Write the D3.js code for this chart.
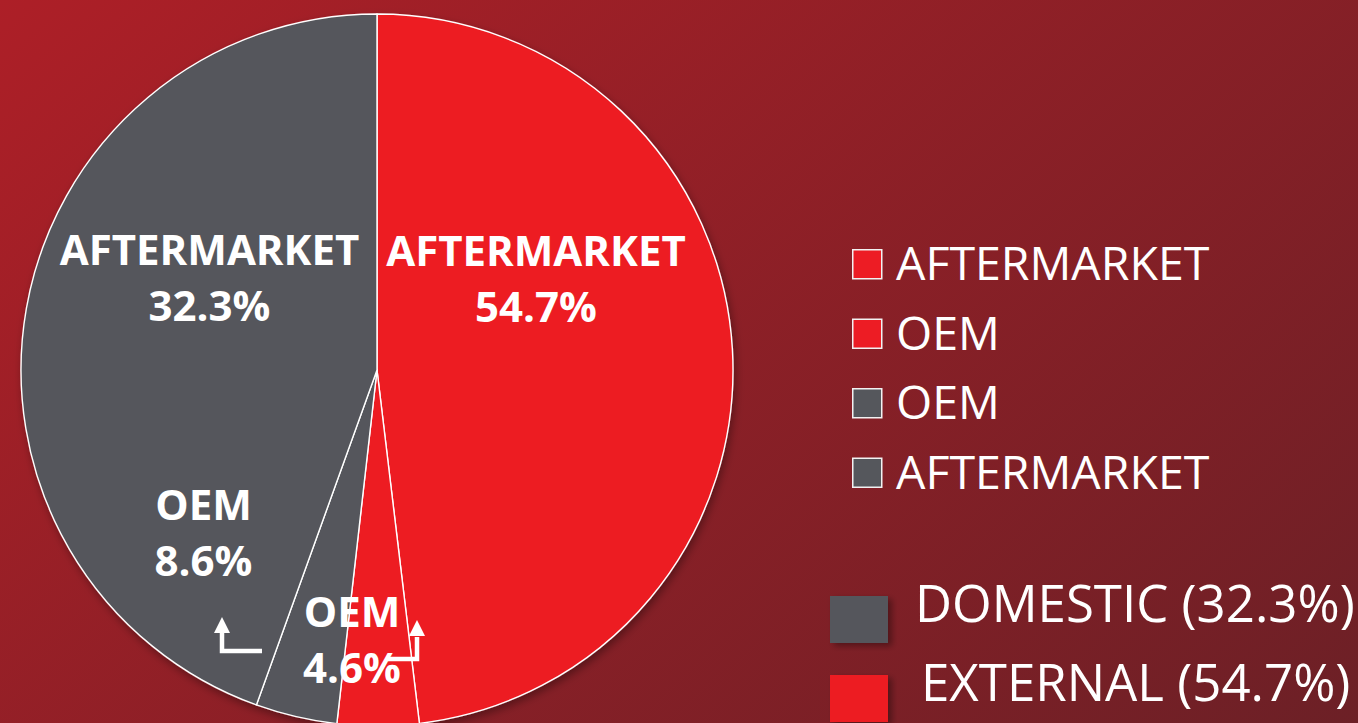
<!DOCTYPE html>
<html>
<head>
<meta charset="utf-8">
<script src="https://cdn.jsdelivr.net/npm/d3@7/dist/d3.min.js"></script>
<style>
  html, body { margin: 0; padding: 0; background: #8a2027; }
  svg { display: block; }
</style>
</head>
<body>
<svg id="chart" width="1358" height="723"></svg>
<script>
// ---------- data ----------
const segments    = ["AFTERMARKET", "OEM", "OEM", "AFTERMARKET"];
const groups      = ["EXTERNAL", "EXTERNAL", "DOMESTIC", "DOMESTIC"];
// slice sizes as drawn in the picture (share of the full circle, %)
const sliceShares = [48.1, 3.7, 3.7, 44.5];
// values printed on the slices
const labelValues = ["54.7%", "4.6%", "8.6%", "32.3%"];
const totalGroups = ["DOMESTIC", "EXTERNAL"];
const totalValues = ["32.3%", "54.7%"];

// ---------- layout / style ----------
const W = 1358, H = 723;
const cx = 377, cy = 370, R = 356;
const colorOf = { EXTERNAL: "#ed1c24", DOMESTIC: "#55575c" };
// label anchor offsets from pie centre (line1 baseline)
const labelPos = [[159, -104], [-25, 257], [-173.5, 150], [-167.5, -105]];
const lineGap = 56;
// arrow annotations (relative to pie centre), polyline + arrow tip
const arrows = [
  { pts: [[-115, 281], [-155, 281], [-155, 262]], tip: [-155, 247] },
  { pts: [[11, 289], [40, 289], [40, 267]], tip: [40, 250] }
];

const svg = d3.select("#chart");
const defs = svg.append("defs");

const grad = defs.append("linearGradient")
  .attr("id", "bg").attr("gradientUnits", "userSpaceOnUse")
  .attr("x1", 0).attr("y1", 0).attr("x2", 1069).attr("y2", 1243);
grad.append("stop").attr("offset", 0).attr("stop-color", "#ad1f27");
grad.append("stop").attr("offset", 1).attr("stop-color", "#632026");

const sh = defs.append("filter").attr("id", "shadow")
  .attr("x", "-20%").attr("y", "-20%").attr("width", "140%").attr("height", "140%");
sh.append("feDropShadow").attr("dx", 2).attr("dy", 4).attr("stdDeviation", 4)
  .attr("flood-color", "#000").attr("flood-opacity", 0.35);

const sh2 = defs.append("filter").attr("id", "shadow2")
  .attr("x", "-30%").attr("y", "-30%").attr("width", "160%").attr("height", "160%");
sh2.append("feDropShadow").attr("dx", 4).attr("dy", 3).attr("stdDeviation", 3)
  .attr("flood-color", "#000").attr("flood-opacity", 0.35);

svg.append("rect").attr("width", W).attr("height", H).attr("fill", "url(#bg)");

// ---------- pie ----------
const data = segments.map((s, i) => ({ seg: s, group: groups[i], share: sliceShares[i], label: labelValues[i] }));
const pie = d3.pie().sort(null).value(d => d.share);
const arc = d3.arc().innerRadius(0).outerRadius(R);

const g = svg.append("g").attr("transform", `translate(${cx},${cy})`);
const slices = g.append("g").attr("filter", "url(#shadow)");
slices.selectAll("path").data(pie(data)).join("path")
  .attr("d", arc)
  .attr("fill", d => colorOf[d.data.group])
  .attr("stroke", "#ffffff")
  .attr("stroke-width", 1.4)
  .attr("stroke-linejoin", "round");

// labels
const lab = g.append("g")
  .attr("font-family", "'Open Sans', 'DejaVu Sans', sans-serif")
  .attr("font-weight", 700)
  .attr("font-size", 42)
  .attr("fill", "#ffffff")
  .attr("text-anchor", "middle");
data.forEach((d, i) => {
  const t = lab.append("text").attr("x", labelPos[i][0]).attr("y", labelPos[i][1]);
  t.append("tspan").attr("x", labelPos[i][0]).text(d.seg);
  t.append("tspan").attr("x", labelPos[i][0]).attr("dy", lineGap).text(d.label);
});

// arrows
const ag = g.append("g");
arrows.forEach(a => {
  ag.append("path")
    .attr("d", d3.line()(a.pts))
    .attr("fill", "none").attr("stroke", "#ffffff").attr("stroke-width", 4.5)
    .attr("stroke-linejoin", "miter");
  const [tx, ty] = a.tip;
  ag.append("path")
    .attr("d", `M${tx},${ty}L${tx + 8},${ty + 16}L${tx - 8},${ty + 16}Z`)
    .attr("fill", "#ffffff");
});

// ---------- legend (segments) ----------
const lg = svg.append("g").attr("transform", "translate(852,249)");
const rowH = 69.5;
data.forEach((d, i) => {
  const row = lg.append("g").attr("transform", `translate(0,${i * rowH})`);
  row.append("rect").attr("x", 0.75).attr("y", 0.75).attr("width", 29).attr("height", 29)
    .attr("fill", colorOf[d.group]).attr("stroke", "#f2f2f2").attr("stroke-width", 1.5);
  row.append("text").attr("x", 44).attr("y", 31)
    .attr("font-family", "'Open Sans', 'DejaVu Sans', sans-serif")
    .attr("font-size", 46.5).attr("fill", "#ffffff")
    .text(d.seg);
});

// ---------- legend (groups) ----------
const lg2 = svg.append("g").attr("transform", "translate(830,596)");
const startX = [85, 91];
totalGroups.forEach((grp, i) => {
  const row = lg2.append("g").attr("transform", `translate(0,${i * 79})`);
  row.append("rect").attr("width", 58).attr("height", 47)
    .attr("fill", colorOf[grp]).attr("filter", "url(#shadow2)");
  row.append("text").attr("x", startX[i]).attr("y", 26)
    .attr("font-family", "'Open Sans', 'DejaVu Sans', sans-serif")
    .attr("font-size", 51).attr("fill", "#ffffff")
    .text(`${grp} (${totalValues[i]})`);
});
</script>
</body>
</html>
